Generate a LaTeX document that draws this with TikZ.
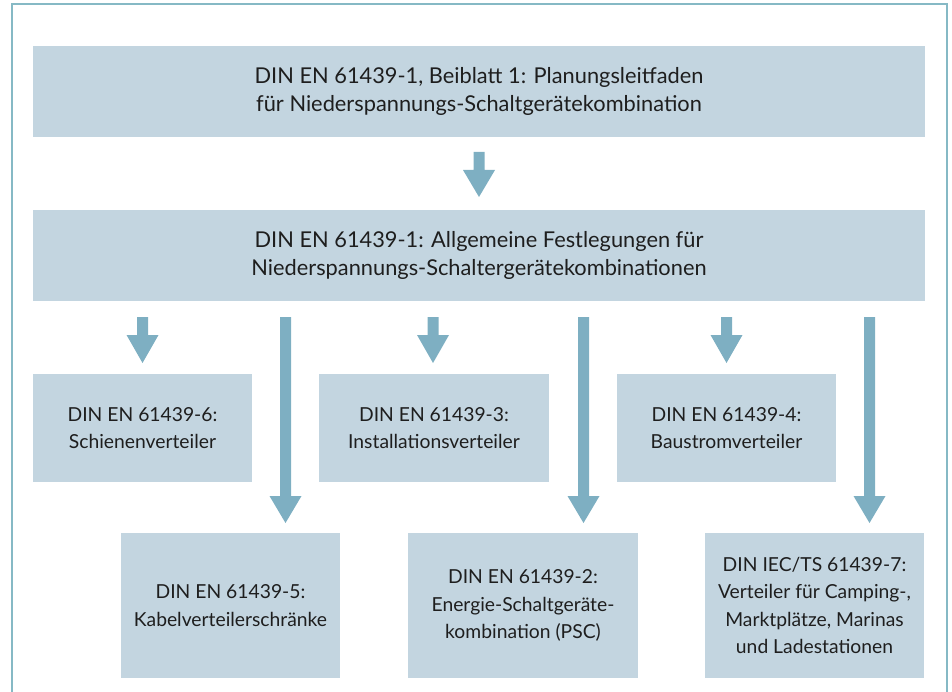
\documentclass[tikz,border=0pt]{standalone}
\usepackage{fontspec}
\setmainfont{Lato}
\definecolor{boxc}{HTML}{C3D5E0}
\definecolor{arrc}{HTML}{7EAFC2}
\definecolor{framec}{HTML}{86B9C5}
\definecolor{txtc}{HTML}{1E1E1E}
\newcommand\blockarr[4]{\fill[arrc] (#1-5.5,#2) -- (#1+5.5,#2) -- (#1+5.5,#3) -- (#1+16,#3) -- (#1,#4) -- (#1-16,#3) -- (#1-5.5,#3) -- cycle;}
\begin{document}
\begin{tikzpicture}[x=1pt,y=-1pt,
  bigbox/.style={fill=boxc, inner sep=0pt, minimum width=892pt, minimum height=91pt, align=center, text=txtc, font=\fontsize{21.8}{28.5}\selectfont},
  smallbox/.style={fill=boxc, inner sep=0pt, minimum height=108pt, align=center, text=txtc, font=\fontsize{19.3}{27.5}\selectfont},
  lowbox/.style={smallbox, minimum height=145pt}]
\useasboundingbox (0,0) rectangle (952,692);
% frame
\draw[framec, line width=2pt] (12,692) -- (12,4) -- (947,4) -- (947,692);
% boxes
\node[bigbox] (b1) at (479,91.5) {DIN EN 61439-1, Beiblatt 1: Planungsleitfaden\\für Niederspannungs-Schaltgerätekombination};
\node[bigbox] (b2) at (479,255.5) {DIN EN 61439-1: Allgemeine Festlegungen für\\Niederspannungs-Schaltergerätekombinationen};
\node[smallbox, minimum width=219pt] (b6) at (142.5,428) {DIN EN 61439-6:\\Schienenverteiler};
\node[smallbox, minimum width=230pt] (b3) at (434,428) {DIN EN 61439-3:\\Installationsverteiler};
\node[smallbox, minimum width=219pt] (b4) at (726.5,428) {DIN EN 61439-4:\\Baustromverteiler};
\node[lowbox, minimum width=219pt] (b5) at (230.5,605.5) {DIN EN 61439-5:\\Kabelverteilerschränke};
\node[lowbox, minimum width=230pt] (bp) at (523,605.5) {DIN EN 61439-2:\\Energie-Schaltgeräte-\\kombination (PSC)};
\node[lowbox, minimum width=219pt] (b7) at (814.5,605.5) {DIN IEC/TS 61439-7:\\Verteiler für Camping-,\\Marktplätze, Marinas\\und Ladestationen};
% arrows
\blockarr{479}{152}{170}{197}
\blockarr{142.5}{317}{335}{363}
\blockarr{433}{317}{335}{363}
\blockarr{726.5}{317}{335}{363}
\blockarr{285.5}{317}{496}{523}
\blockarr{583.5}{317}{496}{523}
\blockarr{869.5}{317}{496}{523}
\end{tikzpicture}
\end{document}
